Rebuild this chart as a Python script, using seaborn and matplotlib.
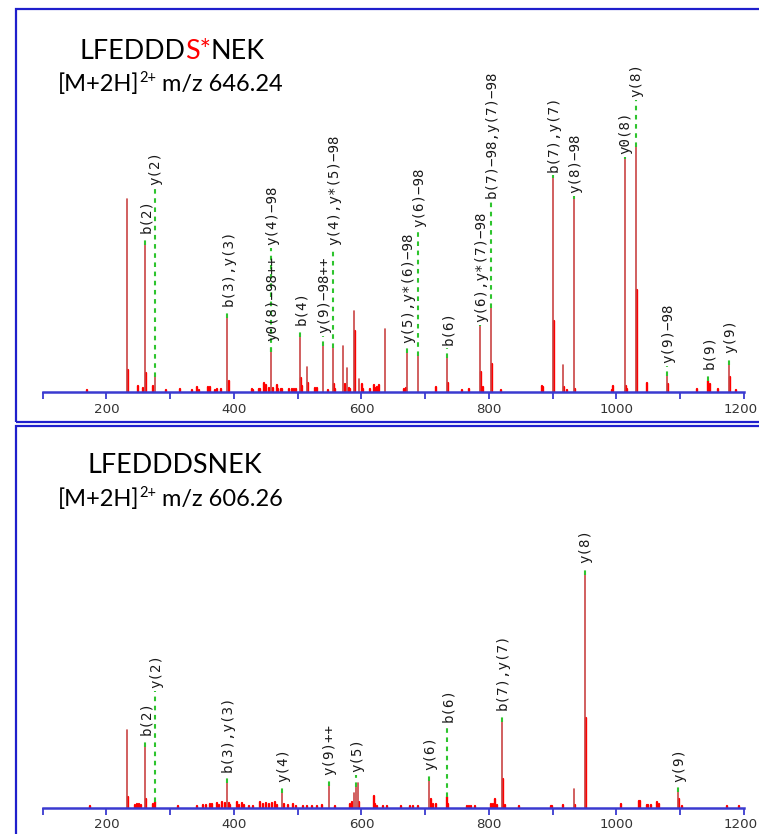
import numpy as np
import pandas as pd
import matplotlib
matplotlib.use("Agg")
import matplotlib.pyplot as plt
import matplotlib.transforms as mtransforms
from matplotlib.patches import Rectangle
import seaborn as sns

# ---------------- data ----------------
top_mz = [169, 231.7, 233.3, 249, 257.8, 260.4, 262, 273.5, 275.5, 294, 316, 333.7, 341.5, 345,
          359.8, 362.5, 370, 373, 379, 389.5, 391.7, 427.8, 430.5, 439, 441.5, 447, 450, 455,
          457.8, 460.5, 467, 469.5, 473, 475.5, 487, 490.5, 493.5, 498, 503.5, 505, 507.5, 514,
          516, 527, 531, 540, 547.5, 555.5, 557, 559, 571.7, 574.5, 577.8, 580, 582, 587.5,
          589.8, 596.6, 600.3, 603, 613, 619.6, 622.5, 624.8, 628, 636.9, 666.7, 669.5, 671.8,
          689.3, 716.8, 734.1, 736.5, 757, 768.6, 785.9, 787.8, 790.3, 803.1, 805.2, 818.3,
          882.6, 885, 900.3, 902.4, 915.6, 917.8, 922, 933.3, 935.3, 993.5, 995, 1012.8, 1015,
          1017, 1030, 1031.7, 1047.3, 1079.2, 1081.5, 1126.7, 1143.9, 1146, 1159.6, 1176.4,
          1178.5, 1187]
top_int = [0.7, 78.6, 8.8, 2.4, 1.8, 59.9, 7.9, 2.4, 6.1, 0.7, 1.1, 0.8, 2.0, 0.8,
           2.2, 2.0, 0.8, 1.1, 1.1, 30.2, 4.5, 1.3, 0.7, 1.1, 1.1, 3.8, 2.9, 1.8,
           16.3, 1.8, 2.9, 1.1, 1.1, 1.1, 1.1, 1.1, 1.1, 1.1, 22.3, 5.6, 2.4, 10.2,
           3.8, 1.8, 1.8, 18.8, 0.7, 17.8, 3.4, 1.1, 18.8, 3.1, 9.7, 1.8, 1.1, 33.0,
           24.9, 5.2, 3.4, 1.1, 1.1, 2.9, 1.8, 2.0, 2.9, 25.7, 1.4, 1.8, 15.8,
           14.7, 2.0, 13.9, 3.7, 0.9, 1.4, 26.9, 8.2, 2.0, 34.1, 11.5, 0.9,
           2.4, 2.0, 87.1, 28.9, 10.9, 2.0, 0.9, 78.6, 1.4, 0.9, 2.4, 94.9, 2.4,
           1.4, 100.0, 41.5, 3.7, 6.5, 3.1, 1.4, 4.5, 3.1, 1.4, 10.9,
           6.1, 0.7]
top_label_mz = [260.4, 275.5, 389.5, 457.8, 457.8, 503.5, 540, 555.5, 671.8, 689.3, 734.1,
                785.9, 803.1, 900.3, 933.3, 1012.8, 1030, 1079.2, 1143.9, 1176.4]
top_label_text = ["b(2)", "y(2)", "b(3),y(3)", "y0(8)\u221298++", "y(4)\u221298", "b(4)",
                  "y(9)\u221298++", "y(4),y*(5)\u221298", "y(5),y*(6)\u221298", "y(6)\u221298",
                  "b(6)", "y(6),y*(7)\u221298", "b(7)\u221298,y(7)\u221298", "b(7),y(7)",
                  "y(8)\u221298", "y0(8)", "y(8)", "y(9)\u221298", "b(9)", "y(9)"]
top_label_at = [64.8, 84.4, 35.1, 20.9, 59.9, 27.3, 24.1, 59.9, 19.9, 67.4, 19.2,
                28.7, 79.0, 89.8, 81.2, 97.0, 120.4, 11.7, 9.4, 15.8]

bot_mz = [174, 231.7, 233.3, 244.8, 247.5, 251, 254, 260.4, 262, 273.5, 276.5, 312.7, 341.5,
          352, 356, 362, 366, 373, 377, 382, 385.5, 388.8, 391.5, 393.5, 404, 407.5, 412,
          415.5, 423, 430, 440.8, 445, 451, 455, 460, 464.3, 468, 475.5, 478.5, 485, 493,
          497, 508.7, 514, 522, 530, 537.6, 548.5, 558, 582, 584.6, 588.2, 591.4, 594,
          596.5, 619.6, 621.5, 624.5, 634, 640.5, 662, 676, 680.5, 689, 706.3, 708.5,
          711.5, 717, 734, 736, 765, 768, 772, 778.5, 803, 806.5, 809.4, 812, 820.3,
          822.4, 825, 847.5, 896.7, 898.5, 915.5, 932.8, 935, 950, 951.6, 1006.5, 1034.8,
          1037, 1047.3, 1050, 1054, 1064, 1066, 1096.4, 1098.5, 1103, 1174, 1192]
bot_int = [0.7, 31.7, 4.2, 1.1, 1.4, 1.4, 1.1, 24.9, 3.5, 1.4, 2.4, 0.5, 0.7,
           1.1, 1.1, 1.4, 1.4, 1.8, 1.1, 2.4, 1.8, 9.9, 1.8, 1.1, 2.4, 1.1, 1.8,
           1.1, 0.7, 0.7, 2.4, 1.4, 1.8, 1.4, 1.8, 2.4, 1.1, 5.8, 1.4, 1.1, 1.4,
           0.8, 0.8, 0.8, 0.8, 0.8, 1.1, 8.8, 0.8, 1.4, 2.4, 5.8, 8.6, 9.9,
           2.4, 4.8, 1.4, 0.8, 0.8, 0.7, 0.7, 0.7, 0.7, 0.7, 11.0, 3.7,
           1.4, 1.4, 4.2, 1.6, 0.7, 0.7, 0.7, 0.7, 1.4, 1.6, 3.4, 1.0, 35.1,
           11.9, 1.0, 0.5, 0.7, 0.5, 0.9, 7.6, 1.0, 94.9, 36.6, 1.4, 2.6,
           2.6, 1.2, 1.0, 1.0, 2.3, 1.4, 6.5, 3.4, 0.7, 0.7, 0.7]
bot_label_mz = [260.4, 276.5, 388.8, 475.5, 548.5, 591.4, 706.3, 734, 820.3, 950, 1096.4]
bot_label_text = ["b(2)", "y(2)", "b(3),y(3)", "y(4)", "y(9)++", "y(5)", "y(6)", "b(6)",
                  "b(7),y(7)", "y(8)", "y(9)"]
bot_label_at = [29.6, 48.7, 14.7, 10.6, 13.3, 14.7, 15.4, 35.1, 39.8, 99.9, 10.6]

top_title = ["LFEDDD", "S*", "NEK"]
bot_title = ["LFEDDDSNEK"]
top_precursor = "646.24"
bot_precursor = "606.26"
x_ticks = list(range(100, 1201, 100))
x_ticklabels = [str(t) if t % 200 == 0 else "" for t in x_ticks]

# ---------------- style ----------------
sns.set_theme(style="white")
plt.rcParams["font.family"] = ["DejaVu Sans"]

W, H = 759, 834
fig = plt.figure(figsize=(W / 100, H / 100), dpi=100)

PX_PER_UNIT = 2.453
YMAX = 130
AX_L, AX_R = 42.7, 744.0
AXIS_BLUE = "#3a3ad0"
FRAME_BLUE = "#1f1fcc"
GREEN = "#2ec42e"


def fig_rect(x0, y_base):
    h = YMAX * PX_PER_UNIT
    return [x0 / W, 1 - y_base / H, (AX_R - AX_L) / W, h / H]


def draw_panel(ax, mz, inten, lab_mz, lab_text, lab_at):
    mz = np.asarray(mz, float)
    inten = np.asarray(inten, float)
    assert len(mz) == len(inten)
    thin = []
    for m, v in zip(mz, inten):
        near = inten[np.abs(mz - m) <= 2.6]
        thin.append(v >= 5 and v >= near.max())
    rows = []
    for i, (m, v) in enumerate(zip(mz, inten)):
        kind = "main" if thin[i] else "minor"
        rows.append({"peak": i, "mz": m, "int": 0.0, "kind": kind})
        rows.append({"peak": i, "mz": m, "int": v, "kind": kind})
    df = pd.DataFrame(rows)
    sns.lineplot(data=df[df.kind == "minor"], x="mz", y="int", units="peak",
                 estimator=None, sort=False, color="#ff0000", linewidth=1.7, ax=ax)
    sns.lineplot(data=df[df.kind == "main"], x="mz", y="int", units="peak",
                 estimator=None, sort=False, color="#c94444", linewidth=1.2, ax=ax)

    off = mtransforms.offset_copy(ax.transData, fig=fig, x=1.0, y=0, units="dots")
    gap = 3.0 / PX_PER_UNIT
    for m, t, at in zip(lab_mz, lab_text, lab_at):
        pk = inten[np.argmin(np.abs(mz - m))]
        ax.plot([m, m], [pk, at - gap], color=GREEN, lw=1.5,
                linestyle=(0, (2.2, 2.2)), zorder=3, clip_on=False)
        ax.text(m, at, t, rotation=90, ha="center", va="bottom", transform=off,
                family="DejaVu Sans Mono", fontsize=10.2, color="#1a1a1a",
                clip_on=False, zorder=4)

    ax.set_xlim(100, 1200)
    ax.set_ylim(0, YMAX)
    ax.set_xlabel("")
    ax.set_ylabel("")
    ax.set_yticks([])
    ax.set_xticks(x_ticks)
    ax.set_xticklabels(x_ticklabels)
    sns.despine(ax=ax, left=True, top=True, right=True)
    ax.spines["bottom"].set_color(AXIS_BLUE)
    ax.spines["bottom"].set_linewidth(1.8)
    ax.spines["bottom"].set_zorder(5)
    ax.tick_params(axis="x", bottom=True, direction="out", length=5.2, width=1.3,
                   color=AXIS_BLUE, labelsize=9.6, labelcolor="#333333", pad=2.5)
    # keep the last label inside the picture
    last = ax.get_xticklabels()[-1]
    last.set_transform(last.get_transform() +
                       mtransforms.ScaledTranslation(-3 / 100, 0, fig.dpi_scale_trans))
    ax.patch.set_alpha(0)


ax_top = fig.add_axes(fig_rect(AX_L, 392.0))
draw_panel(ax_top, top_mz, top_int, top_label_mz, top_label_text, top_label_at)
ax_bot = fig.add_axes(fig_rect(AX_L, 807.7))
draw_panel(ax_bot, bot_mz, bot_int, bot_label_mz, bot_label_text, bot_label_at)

# panel frames
for (x0, y0, x1, y1) in [(15.5, 9.5, 800, 422), (15.5, 425.5, 800, 900)]:
    fig.patches.append(Rectangle((x0 / W, 1 - y1 / H), (x1 - x0) / W, (y1 - y0) / H,
                                 transform=fig.transFigure, fill=False,
                                 edgecolor=FRAME_BLUE, linewidth=1.6, zorder=10))

renderer = fig.canvas.get_renderer()


def runs(x_px, y_px, pieces):
    x = x_px
    for text, size, color, dy in pieces:
        t = fig.text(x / W, 1 - (y_px - dy) / H, text, fontsize=size, color=color,
                     family=["Lato", "DejaVu Sans"], ha="left", va="baseline")
        bb = t.get_window_extent(renderer=renderer)
        x = bb.x1


title_colors = ["#000000", "#ff0000", "#000000"]
runs(79, 59.3, [(s, 19.4, c, 0) for s, c in zip(top_title, title_colors)])
runs(58, 90.7, [("[M+2H]", 17, "#000000", 0), ("2+", 10.5, "#000000", 8.5),
                (" m/z " + top_precursor, 17, "#000000", 0)])
runs(87, 472.7, [(bot_title[0], 19.4, "#000000", 0)])
runs(58, 505.7, [("[M+2H]", 17, "#000000", 0), ("2+", 10.5, "#000000", 8.5),
                 (" m/z " + bot_precursor, 17, "#000000", 0)])

fig.savefig("out.png", dpi=100, facecolor="white")
